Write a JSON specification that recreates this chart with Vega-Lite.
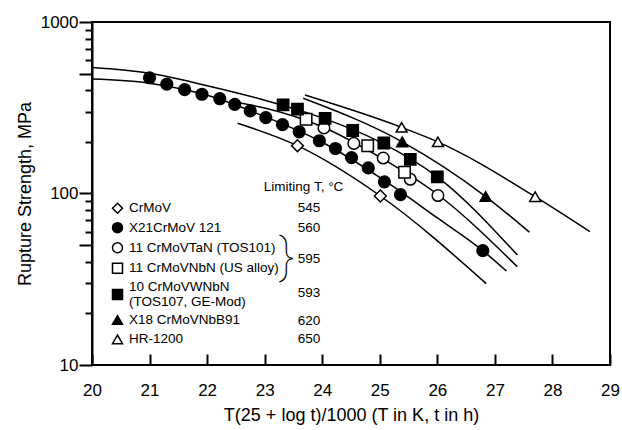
{
  "$schema": "https://vega.github.io/schema/vega-lite/v6.json",
  "width": 518,
  "height": 343,
  "autosize": {"type": "none"},
  "padding": {"left": 92, "top": 22, "right": 12, "bottom": 65},
  "background": "white",
  "config": {
    "view": {"stroke": "black", "strokeWidth": 2},
    "axis": {
      "domainColor": "black", "domainWidth": 2, "tickColor": "black", "tickWidth": 2,
      "labelColor": "black", "titleColor": "black",
      "labelFont": "Liberation Sans", "titleFont": "Liberation Sans",
      "labelFontSize": 17, "titleFontSize": 18, "titleFontWeight": "normal", "grid": false
    },
    "text": {"font": "Liberation Sans", "fontSize": 13.5, "color": "black"}
  },
  "datasets": {
    "curves": [
      {"series": "10 CrMoVWNbN", "x": 20, "y": 542},
      {"series": "10 CrMoVWNbN", "x": 21, "y": 502},
      {"series": "10 CrMoVWNbN", "x": 22, "y": 425},
      {"series": "10 CrMoVWNbN", "x": 23, "y": 350},
      {"series": "10 CrMoVWNbN", "x": 24, "y": 276},
      {"series": "10 CrMoVWNbN", "x": 25, "y": 200},
      {"series": "10 CrMoVWNbN", "x": 26, "y": 125},
      {"series": "10 CrMoVWNbN", "x": 27.39, "y": 43.8},
      {"series": "X21CrMoV 121", "x": 20, "y": 465},
      {"series": "X21CrMoV 121", "x": 21, "y": 440},
      {"series": "X21CrMoV 121", "x": 21.6, "y": 404},
      {"series": "X21CrMoV 121", "x": 22, "y": 374},
      {"series": "X21CrMoV 121", "x": 23, "y": 281},
      {"series": "X21CrMoV 121", "x": 24, "y": 199},
      {"series": "X21CrMoV 121", "x": 25, "y": 124},
      {"series": "X21CrMoV 121", "x": 26, "y": 72},
      {"series": "X21CrMoV 121", "x": 26.79, "y": 46.4},
      {"series": "X21CrMoV 121", "x": 27.2, "y": 35.3},
      {"series": "11 CrMoVTaN (TOS101)", "x": 22.4, "y": 345},
      {"series": "11 CrMoVTaN (TOS101)", "x": 23, "y": 315},
      {"series": "11 CrMoVTaN (TOS101)", "x": 24, "y": 245},
      {"series": "11 CrMoVTaN (TOS101)", "x": 25, "y": 163},
      {"series": "11 CrMoVTaN (TOS101)", "x": 26, "y": 99},
      {"series": "11 CrMoVTaN (TOS101)", "x": 27.39, "y": 37.4},
      {"series": "CrMoV", "x": 22.53, "y": 257},
      {"series": "CrMoV", "x": 23.57, "y": 190},
      {"series": "CrMoV", "x": 25.01, "y": 96.7},
      {"series": "CrMoV", "x": 26.85, "y": 29.8},
      {"series": "X18 CrMoVNbB91", "x": 23.67, "y": 359},
      {"series": "X18 CrMoVNbB91", "x": 25.39, "y": 200},
      {"series": "X18 CrMoVNbB91", "x": 26.84, "y": 96},
      {"series": "X18 CrMoVNbB91", "x": 27.6, "y": 59.5},
      {"series": "HR-1200", "x": 23.7, "y": 375},
      {"series": "HR-1200", "x": 25.38, "y": 243},
      {"series": "HR-1200", "x": 26.01, "y": 200},
      {"series": "HR-1200", "x": 27.7, "y": 95.8},
      {"series": "HR-1200", "x": 28.65, "y": 59.9}
    ],
    "points": [
      {"series": "CrMoV", "x": 23.57, "y": 190},
      {"series": "CrMoV", "x": 25.01, "y": 96.7},
      {"series": "X21CrMoV 121", "x": 21.0, "y": 473},
      {"series": "X21CrMoV 121", "x": 21.3, "y": 434},
      {"series": "X21CrMoV 121", "x": 21.61, "y": 403},
      {"series": "X21CrMoV 121", "x": 21.91, "y": 379},
      {"series": "X21CrMoV 121", "x": 22.22, "y": 357},
      {"series": "X21CrMoV 121", "x": 22.48, "y": 331},
      {"series": "X21CrMoV 121", "x": 22.75, "y": 303},
      {"series": "X21CrMoV 121", "x": 23.02, "y": 277},
      {"series": "X21CrMoV 121", "x": 23.31, "y": 252},
      {"series": "X21CrMoV 121", "x": 23.6, "y": 229},
      {"series": "X21CrMoV 121", "x": 23.95, "y": 203},
      {"series": "X21CrMoV 121", "x": 24.23, "y": 183},
      {"series": "X21CrMoV 121", "x": 24.51, "y": 162},
      {"series": "X21CrMoV 121", "x": 24.8, "y": 141},
      {"series": "X21CrMoV 121", "x": 25.08, "y": 117},
      {"series": "X21CrMoV 121", "x": 25.36, "y": 98.4},
      {"series": "X21CrMoV 121", "x": 26.79, "y": 46.4},
      {"series": "11 CrMoVTaN (TOS101)", "x": 24.03, "y": 241},
      {"series": "11 CrMoVTaN (TOS101)", "x": 24.55, "y": 196},
      {"series": "11 CrMoVTaN (TOS101)", "x": 25.06, "y": 161},
      {"series": "11 CrMoVTaN (TOS101)", "x": 25.53, "y": 121},
      {"series": "11 CrMoVTaN (TOS101)", "x": 26.01, "y": 97.3},
      {"series": "11 CrMoVNbN (US alloy)", "x": 23.72, "y": 271},
      {"series": "11 CrMoVNbN (US alloy)", "x": 24.79, "y": 190},
      {"series": "11 CrMoVNbN (US alloy)", "x": 25.43, "y": 133},
      {"series": "10 CrMoVWNbN", "x": 23.32, "y": 329},
      {"series": "10 CrMoVWNbN", "x": 23.57, "y": 310},
      {"series": "10 CrMoVWNbN", "x": 24.05, "y": 274},
      {"series": "10 CrMoVWNbN", "x": 24.53, "y": 233},
      {"series": "10 CrMoVWNbN", "x": 25.07, "y": 197},
      {"series": "10 CrMoVWNbN", "x": 25.53, "y": 158},
      {"series": "10 CrMoVWNbN", "x": 26.0, "y": 125},
      {"series": "X18 CrMoVNbB91", "x": 25.39, "y": 200},
      {"series": "X18 CrMoVNbB91", "x": 26.84, "y": 96},
      {"series": "HR-1200", "x": 25.38, "y": 243},
      {"series": "HR-1200", "x": 26.01, "y": 200},
      {"series": "HR-1200", "x": 27.7, "y": 95.8}
    ],
    "legendSym": [
      {"series": "CrMoV", "y": 82.0},
      {"series": "X21CrMoV 121", "y": 63.2},
      {"series": "11 CrMoVTaN (TOS101)", "y": 48.3},
      {"series": "11 CrMoVNbN (US alloy)", "y": 36.6},
      {"series": "10 CrMoVWNbN", "y": 25.8},
      {"series": "X18 CrMoVNbB91", "y": 18.3},
      {"series": "HR-1200", "y": 14.1}
    ],
    "legendText": [
      {"label": "CrMoV", "y": 82.0},
      {"label": "X21CrMoV 121", "y": 63.2},
      {"label": "11 CrMoVTaN (TOS101)", "y": 48.3},
      {"label": "11 CrMoVNbN (US alloy)", "y": 36.6},
      {"label": "10 CrMoVWNbN", "y": 28.4},
      {"label": "(TOS107, GE-Mod)", "y": 23.4},
      {"label": "X18 CrMoVNbB91", "y": 18.3},
      {"label": "HR-1200", "y": 14.1}
    ],
    "limits": [
      {"t": "545", "y": 82.0},
      {"t": "560", "y": 63.2},
      {"t": "595", "y": 41.5},
      {"t": "593", "y": 26.2},
      {"t": "620", "y": 18.1},
      {"t": "650", "y": 14.1}
    ]
  },
  "layer": [
    {
      "data": {"name": "curves"},
      "mark": {"type": "line", "color": "black", "strokeWidth": 1.5, "interpolate": "monotone"},
      "encoding": {
        "x": {
          "field": "x", "type": "quantitative",
          "scale": {"domain": [20, 29], "nice": false, "zero": false},
          "title": "T(25 + log t)/1000 (T in K, t in h)",
          "axis": {"values": [20, 21, 22, 23, 24, 25, 26, 27, 28, 29], "offset": -11, "domain": false, "tickSize": 11, "labelPadding": 17, "format": "d", "titlePadding": 8, "labelFlush": false}
        },
        "y": {
          "field": "y", "type": "quantitative",
          "scale": {"type": "log", "domain": [10, 1000], "nice": false},
          "title": "Rupture Strength, MPa",
          "axis": {"orient": "left", "values": [10, 50, 100, 500, 1000], "tickSize": 13, "labelPadding": 1, "titlePadding": 6, "labelOverlap": false,
                   "labelExpr": "datum.value == 50 || datum.value == 500 ? '' : format(datum.value, 'd')",
                   "encode": {"ticks": {"update": {"x2": {"value": 13}}}}}
        },
        "detail": {"field": "series", "type": "nominal"}
      }
    },
    {
      "data": {"name": "points"},
      "mark": {"type": "point", "filled": true, "stroke": "black", "strokeWidth": 1.5, "opacity": 1},
      "encoding": {
        "x": {"field": "x", "type": "quantitative", "axis": null},
        "y": {"field": "y", "type": "quantitative",
              "axis": {"orient": "left", "values": [20, 30, 40, 60, 70, 80, 90, 200, 300, 400, 600, 700, 800, 900], "tickSize": 7, "labels": false, "domain": false, "title": null, "grid": false,
                       "encode": {"ticks": {"update": {"x2": {"value": 7}}}}}},
        "shape": {"field": "series", "type": "nominal", "legend": null,
                  "scale": {"domain": ["CrMoV", "X21CrMoV 121", "11 CrMoVTaN (TOS101)", "11 CrMoVNbN (US alloy)", "10 CrMoVWNbN", "X18 CrMoVNbB91", "HR-1200"],
                            "range": ["diamond", "circle", "circle", "square", "square", "triangle-up", "triangle-up"]}},
        "fill": {"field": "series", "type": "nominal", "legend": null,
                 "scale": {"domain": ["CrMoV", "X21CrMoV 121", "11 CrMoVTaN (TOS101)", "11 CrMoVNbN (US alloy)", "10 CrMoVWNbN", "X18 CrMoVNbB91", "HR-1200"],
                           "range": ["white", "black", "white", "white", "black", "black", "white"]}},
        "size": {"field": "series", "type": "nominal", "legend": null,
                 "scale": {"domain": ["CrMoV", "X21CrMoV 121", "11 CrMoVTaN (TOS101)", "11 CrMoVNbN (US alloy)", "10 CrMoVWNbN", "X18 CrMoVNbB91", "HR-1200"],
                           "range": [140, 120, 90, 90, 115, 165, 165]}}
      }
    },
    {
      "data": {"name": "legendSym"},
      "mark": {"type": "point", "filled": true, "stroke": "black", "strokeWidth": 1.5, "opacity": 1, "size": 100},
      "encoding": {
        "x": {"datum": 20.443, "type": "quantitative", "axis": null},
        "y": {"field": "y", "type": "quantitative", "axis": null},
        "shape": {"field": "series", "type": "nominal", "legend": null},
        "fill": {"field": "series", "type": "nominal", "legend": null}
      }
    },
    {
      "data": {"name": "legendText"},
      "mark": {"type": "text", "align": "left", "baseline": "middle"},
      "encoding": {
        "x": {"datum": 20.642, "type": "quantitative", "axis": null},
        "y": {"field": "y", "type": "quantitative", "axis": null},
        "text": {"field": "label", "type": "nominal"}
      }
    },
    {
      "data": {"name": "limits"},
      "mark": {"type": "text", "align": "center", "baseline": "middle"},
      "encoding": {
        "x": {"datum": 23.77, "type": "quantitative", "axis": null},
        "y": {"field": "y", "type": "quantitative", "axis": null},
        "text": {"field": "t", "type": "nominal"}
      }
    },
    {
      "data": {"values": [{"t": "Limiting T, °C", "y": 108.4}]},
      "mark": {"type": "text", "align": "left", "baseline": "middle"},
      "encoding": {
        "x": {"datum": 22.986, "type": "quantitative", "axis": null},
        "y": {"field": "y", "type": "quantitative", "axis": null},
        "text": {"field": "t", "type": "nominal"}
      }
    },
    {
      "data": {"values": [{"t": "}", "y": 41.8}]},
      "mark": {"type": "text", "align": "center", "baseline": "middle", "font": "Roboto", "fontWeight": 100, "fontSize": 48},
      "encoding": {
        "x": {"datum": 23.385, "type": "quantitative", "axis": null},
        "y": {"field": "y", "type": "quantitative", "axis": null},
        "text": {"field": "t", "type": "nominal"}
      }
    }
  ],
  "resolve": {"axis": {"x": "independent", "y": "independent"}}
}
